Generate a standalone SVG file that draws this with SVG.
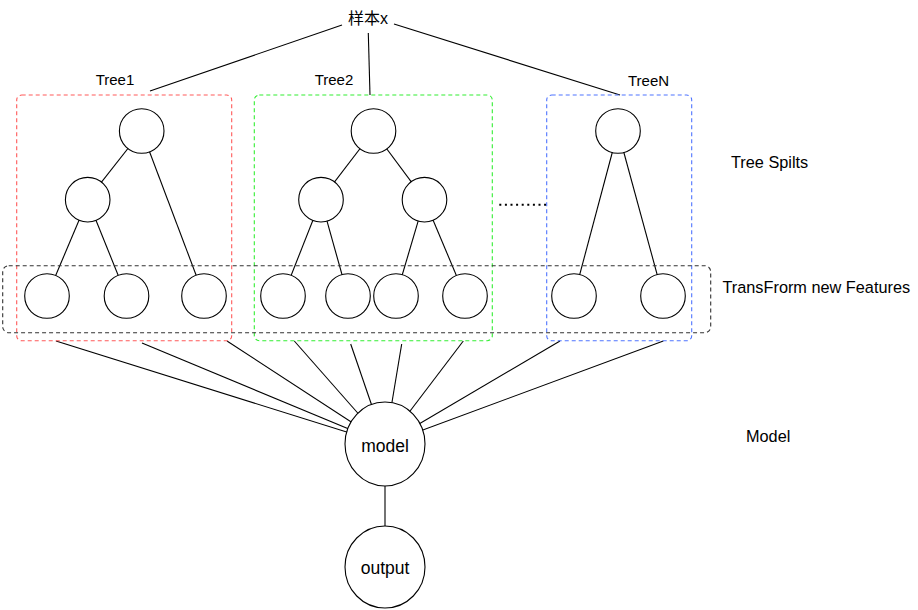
<svg xmlns="http://www.w3.org/2000/svg" width="918" height="610" viewBox="0 0 918 610">
<style>
.bg{fill:#ffffff}
.edge{stroke:#000;stroke-width:1.1;fill:none}
.node{fill:#fff;stroke:#000;stroke-width:1.1}
.box{fill:none;stroke-width:1.1;stroke-dasharray:4 3}
.lbl{font-family:"Liberation Sans",Arial,"Noto Sans CJK SC",sans-serif;fill:#000}
.t14{font-size:15px}
.t16{font-size:16.3px}
.t17{font-size:17.5px}
</style>
<rect class="bg" x="0" y="0" width="918" height="610"/>

<g id="connectors">
  <line class="edge" x1="342" y1="25" x2="150" y2="91"/>
  <line class="edge" x1="368.3" y1="33" x2="370" y2="95"/>
  <line class="edge" x1="394" y1="24" x2="620" y2="95"/>
  <line class="edge" x1="141.7" y1="131" x2="87.7" y2="199.7"/>
  <line class="edge" x1="141.7" y1="131" x2="204" y2="296"/>
  <line class="edge" x1="87.7" y1="199.7" x2="47" y2="296"/>
  <line class="edge" x1="87.7" y1="199.7" x2="126.5" y2="296"/>
  <line class="edge" x1="373.5" y1="131" x2="321" y2="199.7"/>
  <line class="edge" x1="373.5" y1="131" x2="424.5" y2="199.7"/>
  <line class="edge" x1="321" y1="199.7" x2="283" y2="296"/>
  <line class="edge" x1="321" y1="199.7" x2="348" y2="296"/>
  <line class="edge" x1="424.5" y1="199.7" x2="396" y2="296"/>
  <line class="edge" x1="424.5" y1="199.7" x2="465" y2="296"/>
  <line class="edge" x1="618" y1="131" x2="574" y2="296"/>
  <line class="edge" x1="618" y1="131" x2="663" y2="296"/>
  <line class="edge" x1="56" y1="341" x2="385" y2="444"/>
  <line class="edge" x1="142" y1="343" x2="385" y2="444"/>
  <line class="edge" x1="227" y1="341" x2="385" y2="444"/>
  <line class="edge" x1="294.3" y1="341" x2="385" y2="444"/>
  <line class="edge" x1="350.7" y1="344" x2="385" y2="444"/>
  <line class="edge" x1="401.7" y1="344" x2="385" y2="444"/>
  <line class="edge" x1="463.3" y1="341" x2="385" y2="444"/>
  <line class="edge" x1="560" y1="341" x2="385" y2="444"/>
  <line class="edge" x1="663.3" y1="341" x2="385" y2="444"/>
  <line class="edge" x1="385" y1="486" x2="385" y2="526"/>
  <line x1="499.3" y1="204.7" x2="546" y2="204.7" stroke="#000" stroke-width="2" stroke-dasharray="2 3.6"/>
</g>

<g id="sample">
  <text class="lbl" x="368" y="24" font-size="16" text-anchor="middle" font-family="'Liberation Sans','Noto Sans CJK SC',sans-serif">样本x</text>
</g>

<g id="tree1">
  <rect class="box" x="16.7" y="95" width="215" height="245.7" rx="5" stroke="#ff5a5a"/>
  <text class="lbl t14" x="115" y="85" text-anchor="middle">Tree1</text>
  <circle class="node" cx="141.7" cy="131" r="22.3"/>
  <circle class="node" cx="87.7" cy="199.7" r="22.3"/>
  <circle class="node" cx="47" cy="296" r="22.3"/>
  <circle class="node" cx="126.5" cy="296" r="22.3"/>
  <circle class="node" cx="204" cy="296" r="22.3"/>
</g>

<g id="tree2">
  <rect class="box" x="254.3" y="95" width="238" height="245.7" rx="5" stroke="#33ee33"/>
  <text class="lbl t14" x="334" y="85" text-anchor="middle">Tree2</text>
  <circle class="node" cx="373.5" cy="131" r="22.3"/>
  <circle class="node" cx="321" cy="199.7" r="22.3"/>
  <circle class="node" cx="424.5" cy="199.7" r="22.3"/>
  <circle class="node" cx="283" cy="296" r="22.3"/>
  <circle class="node" cx="348" cy="296" r="22.3"/>
  <circle class="node" cx="396" cy="296" r="22.3"/>
  <circle class="node" cx="465" cy="296" r="22.3"/>
</g>

<g id="treeN">
  <rect class="box" x="546.7" y="95" width="145" height="245.7" rx="5" stroke="#4f74ff"/>
  <text class="lbl t14" x="648.5" y="86" text-anchor="middle">TreeN</text>
  <circle class="node" cx="618" cy="131" r="22.3"/>
  <circle class="node" cx="574" cy="296" r="22.3"/>
  <circle class="node" cx="663" cy="296" r="22.3"/>
</g>

<g id="features">
  <rect class="box" x="2.7" y="265.7" width="708" height="67" rx="6" stroke="#333"/>
</g>

<g id="model">
  <ellipse class="node" cx="385" cy="444" rx="40" ry="42"/>
  <text class="lbl t17" x="385" y="451.5" text-anchor="middle">model</text>
</g>

<g id="output">
  <ellipse class="node" cx="385" cy="567" rx="40" ry="41"/>
  <text class="lbl t17" x="385" y="574" text-anchor="middle">output</text>
</g>

<g id="labels">
  <text class="lbl t16" x="731" y="168">Tree Spilts</text>
  <text class="lbl t16" x="722.5" y="292.7">TransFrorm new Features</text>
  <text class="lbl t16" x="746" y="441.5">Model</text>
</g>
</svg>
